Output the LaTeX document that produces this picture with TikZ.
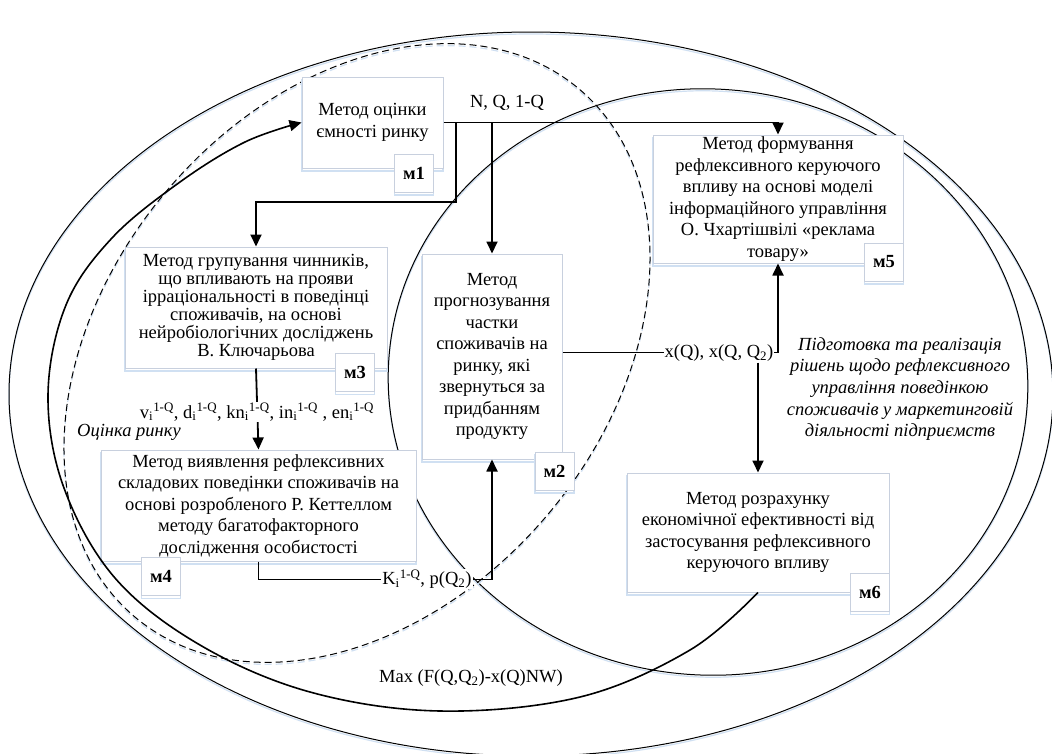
\documentclass[tikz,border=0pt]{standalone}
\usepackage{fontspec}
\setmainfont{Liberation Serif}
\usetikzlibrary{arrows.meta,calc}
\definecolor{boxline}{RGB}{200,208,222}
\definecolor{shadowc}{RGB}{208,224,242}
\tikzset{
  basefont/.style={font=\fontsize{18.5}{21.5}\selectfont},
  box/.style={basefont, draw=boxline, line width=1pt, fill=white, align=center, inner sep=0pt,
    preaction={draw=shadowc, line width=1.2pt, transform canvas={yshift=-3pt}}},
  tag/.style={draw=boxline, line width=1pt, fill=white, inner sep=0pt,
    minimum width=39pt, minimum height=38pt, font=\fontsize{18.5}{21.5}\selectfont\bfseries,
    preaction={draw=shadowc, line width=1.2pt, transform canvas={yshift=-3pt}}},
  lbl/.style={basefont, fill=white, inner sep=1pt},
  conn/.style={line width=1.8pt, -{Triangle[length=12pt,width=11pt]}},
  ellthin/.style={line width=1pt},
  ellshadow/.style={draw=shadowc, line width=1.2pt},
}
\begin{document}
\begin{tikzpicture}[x=1pt,y=-1pt]
\useasboundingbox (0,0) rectangle (1052,753);
\clip (0,0) rectangle (1052,753);
\fill[white] (0,0) rectangle (1052,753);

% big ellipses (shadows then lines)
\draw[ellshadow] (531,396) ellipse[x radius=522pt, y radius=362pt];
\draw[ellthin] (531,394) ellipse[x radius=522pt, y radius=362pt];

\draw[ellshadow, rotate around={-5:(708,384)}] (708,384) ellipse[x radius=320pt, y radius=293pt];
\draw[ellthin, rotate around={-5:(708,382)}] (708,382) ellipse[x radius=320pt, y radius=293pt];

\draw[ellshadow, dash pattern=on 7pt off 4pt, rotate around={-40:(357,355)}] (357,355) ellipse[x radius=250pt, y radius=345pt];
\draw[ellthin, dash pattern=on 7pt off 4pt, rotate around={-40:(357,353)}] (357,353) ellipse[x radius=250pt, y radius=345pt];

% boxes
\node[box, minimum width=141pt, minimum height=91pt] (m1) at (372.5,122.5) {Метод оцінки\\ємності ринку};
\node[tag] (t1) at (414,173) {м1};

\node[box, minimum width=250pt, minimum height=128pt] (m5) at (778,199)
  {Метод формування\\рефлексивного керуючого\\впливу на основі моделі\\інформаційного управління\\О. Чхартішвілі «реклама\\товару»};
\node[tag] (t5) at (884,262) {м5};

\node[box, minimum width=262pt, minimum height=121pt, font=\fontsize{18.5}{18}\selectfont] (m3) at (256,307.5)
  {Метод групування чинників,\\що впливають на прояви\\ірраціональності в поведінці\\споживачів, на основі\\нейробіологічних досліджень\\В. Ключарьова};
\node[tag] (t3) at (355,372.5) {м3};

\node[box, minimum width=315pt, minimum height=111pt] (m4) at (258.5,505.5)
  {Метод виявлення рефлексивних\\складових поведінки споживачів на\\основі розробленого Р. Кеттеллом\\методу багатофакторного\\дослідження особистості};
\node[tag] (t4) at (161,576.5) {м4};

\node[box, minimum width=140pt, minimum height=205pt] (m2) at (492,356.5)
  {Метод\\прогнозування\\частки\\споживачів на\\ринку, які\\звернуться за\\придбанням\\продукту};
\node[tag] (t2) at (554.5,471) {м2};

\node[box, minimum width=262pt, minimum height=119pt] (m6) at (758,532.5)
  {Метод розрахунку\\економічної ефективності від\\застосування рефлексивного\\керуючого впливу};
\node[tag] (t6) at (870,592.5) {м6};

% connectors
\coordinate (j1) at (456,122);
\coordinate (j3) at (492,122);
\draw[conn] (m1.east) -| (m5.north);
\draw[conn] (j1) -- ++(0,80) -| (m3.north);
\draw[conn] (j3) -- (m2.north);

\draw[conn] (m3.south) -- (m4.north);
\node[lbl] (lv) at (257,412) {v\textsubscript{i}\textsuperscript{1-Q}, d\textsubscript{i}\textsuperscript{1-Q}, kn\textsubscript{i}\textsuperscript{1-Q}, in\textsubscript{i}\textsuperscript{1-Q} , en\textsubscript{i}\textsuperscript{1-Q}};

\draw[conn] (m4.south) -- ++(0,18) -| (m2.south);
\node[lbl] (lk) at (427,579) {K\textsubscript{i}\textsuperscript{1-Q}, p(Q\textsubscript{2})};

\draw[conn] ($(m2.east)+(0,-4)$) -| (m5.south);
\node[lbl] (lx) at (719,353) {x(Q), x(Q, Q\textsubscript{2})};
\draw[conn] (lx.south -| m6.north) -- (m6.north);

\node[lbl] (nq) at (507,103) {N, Q, 1-Q};

% feedback loop
\draw[conn, line width=1.6pt] plot[smooth, tension=0.6] coordinates {(m6.south) (690,650) (580,697) (440,711) (310,692) (200,645) (115,578) (64,488) (48,395) (66,305) (112,238) (180,182) (245,142) (m1.west)};

\node[basefont, inner sep=0pt] (mx) at (471,678) {Max (F(Q,Q\textsubscript{2})-x(Q)NW)};
\node[basefont, inner sep=0pt, font=\fontsize{18.5}{21.5}\selectfont\itshape] (ocr) at (129,432) {Оцінка ринку};
\node[basefont, inner sep=0pt, align=center, font=\fontsize{18.5}{21.7}\selectfont\itshape] (pr) at (900,389)
  {Підготовка та реалізація\\рішень щодо рефлексивного\\управління поведінкою\\споживачів у маркетинговій\\діяльності підприємств};
\end{tikzpicture}
\end{document}
